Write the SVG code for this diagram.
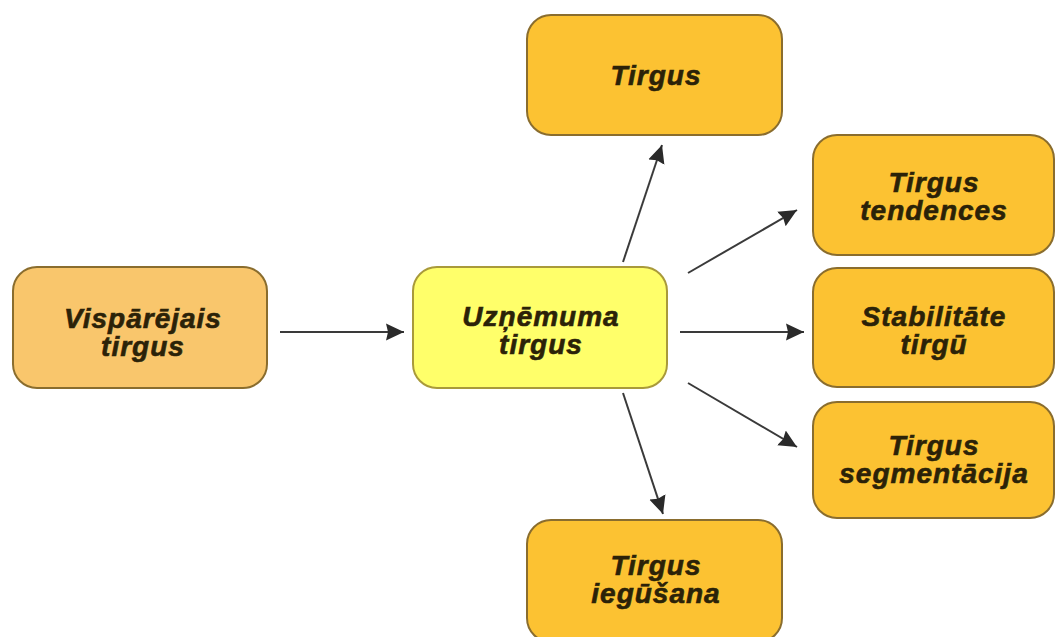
<svg xmlns="http://www.w3.org/2000/svg" width="1055" height="637" viewBox="0 0 1055 637">
  <style>
    .box { stroke: #8a6d2e; stroke-width: 2; }
    .orange { fill: #fcc232; }
    .pale { fill: #f9c66c; }
    .yellow { fill: #ffff6a; stroke: #a99a3a; }
    .label { font-family: "Liberation Sans", Arial, sans-serif; font-weight: bold; font-style: italic; font-size: 28px; letter-spacing: 1px; fill: #2b2208; stroke: #2b2208; stroke-width: 0.6; text-anchor: middle; }
    .conn { stroke: #3a3a3a; stroke-width: 2; fill: none; marker-end: url(#arrow); }
  </style>
  <defs>
    <marker id="arrow" markerUnits="userSpaceOnUse" markerWidth="19" markerHeight="19" viewBox="0 0 19 19" refX="18" refY="9.5" orient="auto">
      <path d="M0,1 L18,9.5 L0,18 L2,9.5 Z" fill="#2a2a2a"/>
    </marker>
  </defs>
  <rect width="1055" height="637" fill="#ffffff"/>

  <g id="connectors">
    <line class="conn" x1="280" y1="332" x2="404" y2="332"/>
    <line class="conn" x1="680" y1="332" x2="804" y2="332"/>
    <line class="conn" x1="623" y1="262" x2="662" y2="145"/>
    <line class="conn" x1="688" y1="273" x2="797" y2="210"/>
    <line class="conn" x1="688" y1="383" x2="797" y2="447"/>
    <line class="conn" x1="623" y1="393" x2="663" y2="514"/>
  </g>

  <g id="node-visparejais">
    <rect class="box pale" x="13" y="267" width="254" height="121" rx="24"/>
    <text class="label" x="143" y="328">Vispārējais</text>
    <text class="label" x="143" y="356">tirgus</text>
  </g>

  <g id="node-uznemuma">
    <rect class="box yellow" x="413" y="267" width="254" height="121" rx="24"/>
    <text class="label" x="541" y="326">Uzņēmuma</text>
    <text class="label" x="541" y="354">tirgus</text>
  </g>

  <g id="node-tirgus">
    <rect class="box orange" x="527" y="15" width="255" height="120" rx="24"/>
    <text class="label" x="656" y="85">Tirgus</text>
  </g>

  <g id="node-tendences">
    <rect class="box orange" x="813" y="135" width="241" height="120" rx="24"/>
    <text class="label" x="934" y="192">Tirgus</text>
    <text class="label" x="934" y="220">tendences</text>
  </g>

  <g id="node-stabilitate">
    <rect class="box orange" x="813" y="268" width="241" height="119" rx="24"/>
    <text class="label" x="934" y="326">Stabilitāte</text>
    <text class="label" x="934" y="354">tirgū</text>
  </g>

  <g id="node-segmentacija">
    <rect class="box orange" x="813" y="402" width="241" height="116" rx="24"/>
    <text class="label" x="934" y="455">Tirgus</text>
    <text class="label" x="934" y="483">segmentācija</text>
  </g>

  <g id="node-iegusana">
    <rect class="box orange" x="527" y="520" width="255" height="122" rx="24"/>
    <text class="label" x="656" y="575">Tirgus</text>
    <text class="label" x="656" y="603">iegūšana</text>
  </g>
</svg>
